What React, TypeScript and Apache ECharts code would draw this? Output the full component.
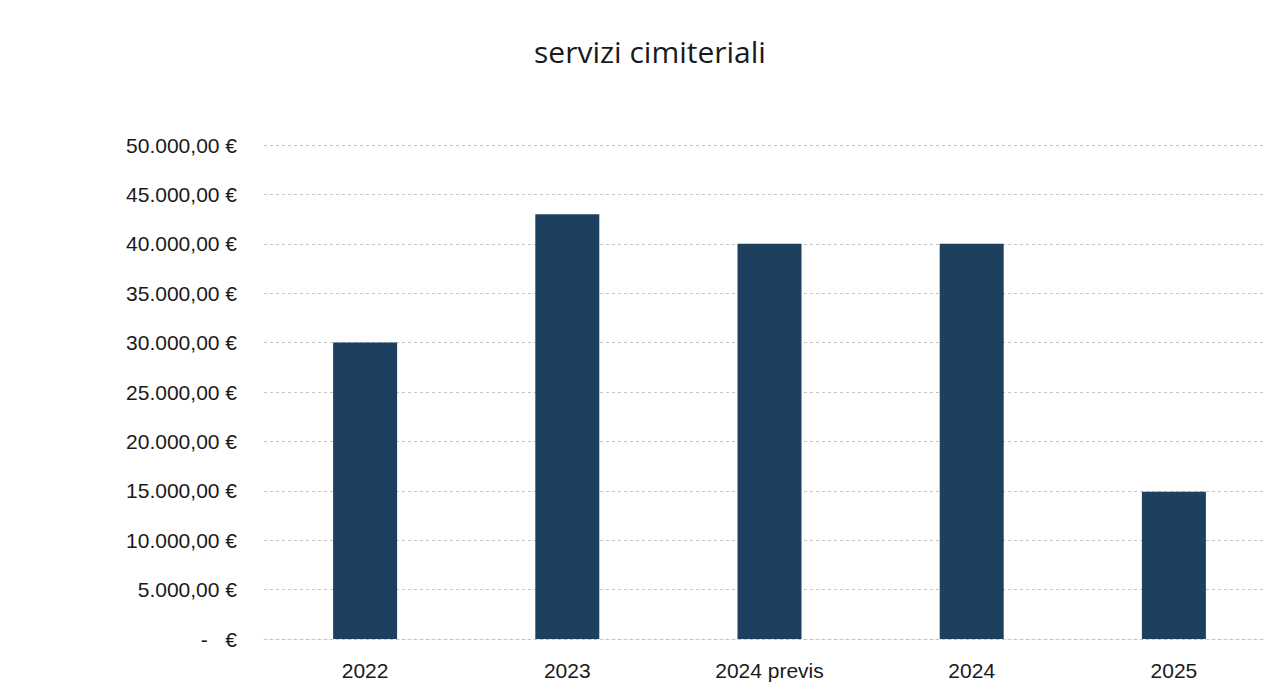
import React, { useEffect, useRef } from "react";
import * as echarts from "echarts";

const title = "servizi cimiteriali";
const categories = ["2022", "2023", "2024 previs", "2024", "2025"];
const values = [30000, 43000, 40000, 40000, 14900];
const yMin = 0;
const yMax = 50000;
const yStep = 5000;

function formatEuro(v: number): string {
  if (v === 0) return "-   €";
  const fixed = v.toFixed(2);
  const [intPart, dec] = fixed.split(".");
  const withDots = intPart.replace(/\B(?=(\d{3})+(?!\d))/g, ".");
  return `${withDots},${dec} €`;
}

export default function App() {
  const ref = useRef<HTMLDivElement>(null);
  useEffect(() => {
    if (!ref.current) return;
    const chart = echarts.init(ref.current, null, { renderer: "svg" });
    chart.setOption({
      animation: false,
      backgroundColor: "#ffffff",
      title: {
        text: title,
        left: 645,
        textAlign: "center",
        top: 31,
        textStyle: {
          fontFamily: "Open Sans",
          fontSize: 30,
          fontWeight: "normal",
          color: "#1a1a1a",
        },
      },
      grid: { left: 264, right: 5, top: 145, bottom: 690 - 639 },
      xAxis: {
        type: "category",
        data: categories,
        axisLine: { show: true, lineStyle: { color: "#c4c4c4", type: [3, 3], width: 1 } },
        axisTick: { show: false },
        axisLabel: {
          margin: 21,
          fontFamily: "Liberation Sans",
          fontSize: 21,
          color: "#1a1a1a",
        },
      },
      yAxis: {
        type: "value",
        min: yMin,
        max: yMax,
        interval: yStep,
        axisLine: { show: false },
        axisTick: { show: false },
        splitLine: { show: true, lineStyle: { color: "#c4c4c4", type: [3, 3], width: 1 } },
        axisLabel: {
          margin: 27,
          fontFamily: "Liberation Sans",
          fontSize: 21,
          color: "#1a1a1a",
          formatter: (v: number) => formatEuro(v),
        },
      },
      series: [
        {
          type: "bar",
          data: values,
          barWidth: 64,
          itemStyle: { color: "#1e405f" },
        },
      ],
    });
    return () => chart.dispose();
  }, []);
  return (
    <div
      ref={ref}
      style={{ position: "absolute", left: 0, top: 0, width: 1280, height: 690 }}
    />
  );
}
